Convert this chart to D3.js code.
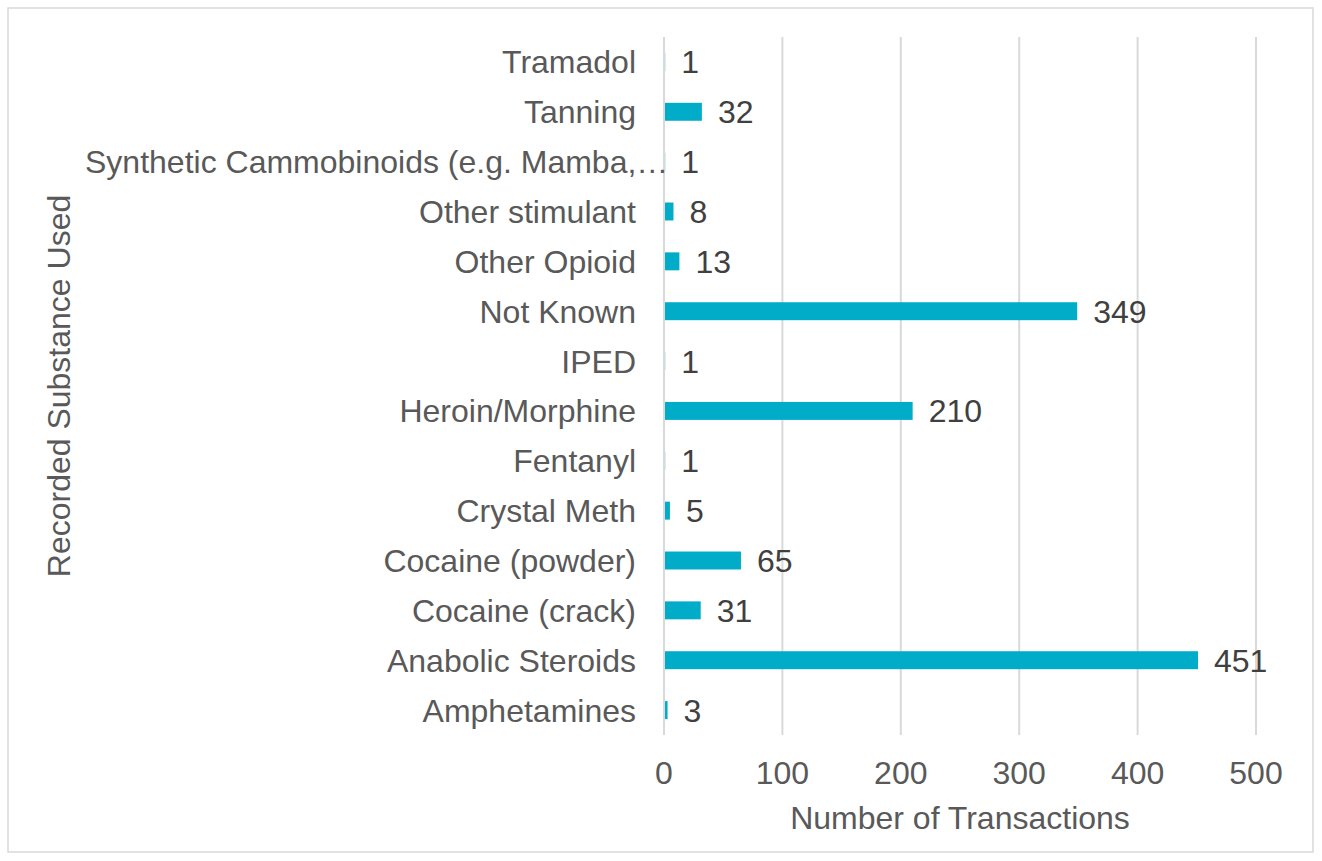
<!DOCTYPE html>
<html>
<head>
<meta charset="utf-8">
<script src="https://cdn.jsdelivr.net/npm/d3@7"></script>
<style>
  html, body { margin: 0; padding: 0; background: #fff; }
  text { font-family: "Liberation Sans", Arial, sans-serif; }
</style>
</head>
<body>
<div id="chart"></div>
<script>
// data (top to bottom)
const substances = [
  "Tramadol", "Tanning", "Synthetic Cammobinoids (e.g. Mamba,\u2026",
  "Other stimulant", "Other Opioid", "Not Known", "IPED",
  "Heroin/Morphine", "Fentanyl", "Crystal Meth", "Cocaine (powder)",
  "Cocaine (crack)", "Anabolic Steroids", "Amphetamines"
];
const transactions = [1, 32, 1, 8, 13, 349, 1, 210, 1, 5, 65, 31, 451, 3];
const xTicks = [0, 100, 200, 300, 400, 500];

const width = 1322, height = 861;
const margin = { left: 664, right: 65, top: 37, bottom: 126 };

const svg = d3.select("#chart").append("svg")
    .attr("width", width)
    .attr("height", height);

// outer chart border
svg.append("rect")
    .attr("x", 8).attr("y", 8)
    .attr("width", 1305).attr("height", 844)
    .attr("fill", "#fff")
    .attr("stroke", "#d9d9d9")
    .attr("stroke-width", 1.5);

const x = d3.scaleLinear()
    .domain([0, 500])
    .range([margin.left, width - margin.right - 1]);

const y = d3.scaleBand()
    .domain(substances)
    .range([margin.top, height - margin.bottom])
    .paddingInner(0.64)
    .paddingOuter(0.32);

// vertical gridlines
svg.append("g")
    .selectAll("line")
    .data(xTicks)
    .join("line")
    .attr("x1", d => x(d)).attr("x2", d => x(d))
    .attr("y1", margin.top).attr("y2", height - margin.bottom)
    .attr("stroke", "#d9d9d9")
    .attr("stroke-width", 2);

// x tick labels
svg.append("g")
    .selectAll("text")
    .data(xTicks)
    .join("text")
    .attr("x", d => x(d))
    .attr("y", 784)
    .attr("text-anchor", "middle")
    .attr("font-size", 32)
    .attr("fill", "#595959")
    .text(d => d);

// bars (start just right of the zero gridline)
svg.append("g")
    .selectAll("rect")
    .data(substances)
    .join("rect")
    .attr("x", x(0) + 1)
    .attr("y", d => y(d))
    .attr("width", (d, i) => Math.max(0, x(transactions[i]) - x(0) - 1))
    .attr("height", y.bandwidth())
    .attr("fill", "#00acc8");

// data labels
svg.append("g")
    .selectAll("text")
    .data(substances)
    .join("text")
    .attr("x", (d, i) => x(transactions[i]) + 16)
    .attr("y", d => y(d) + y.bandwidth() / 2)
    .attr("dy", "0.36em")
    .attr("font-size", 32)
    .attr("fill", "#404040")
    .text((d, i) => transactions[i]);

// category labels
const catLabels = svg.append("g")
    .selectAll("text")
    .data(substances)
    .join("text")
    .attr("x", margin.left - 28)
    .attr("y", d => y.bandwidth() / 2 + y(d))
    .attr("dy", "0.36em")
    .attr("text-anchor", "end")
    .attr("font-size", 32)
    .attr("fill", "#595959")
    .text(d => d);

// long (truncated) label overflows toward the axis like the original
catLabels.each(function() {
  const len = this.getComputedTextLength();
  if (len > margin.left - 28 - 85) {
    d3.select(this).attr("text-anchor", "start").attr("x", 85);
  }
});

// axis titles
svg.append("text")
    .attr("x", (x(0) + x(500)) / 2)
    .attr("y", 829)
    .attr("text-anchor", "middle")
    .attr("font-size", 32)
    .attr("fill", "#595959")
    .text("Number of Transactions");

svg.append("text")
    .attr("transform", "translate(70," + ((margin.top + height - margin.bottom) / 2) + ") rotate(-90)")
    .attr("text-anchor", "middle")
    .attr("font-size", 32)
    .attr("fill", "#595959")
    .text("Recorded Substance Used");
</script>
</body>
</html>
